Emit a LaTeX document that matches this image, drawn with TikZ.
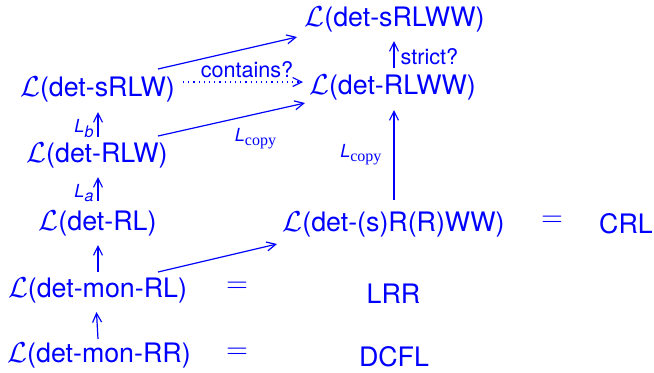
\documentclass[tikz,border=0pt]{standalone}
\usepackage{fontspec}
\setmainfont{TeX Gyre Heros}
\newfontfamily\tms{Liberation Serif}
\usetikzlibrary{arrows.meta}
\begin{document}
\begin{tikzpicture}[x=0.5pt,y=-0.5pt,
  lang/.style={text=blue,inner sep=0pt,font=\fontsize{13.4}{15}\selectfont},
  lbl/.style={text=blue,inner sep=0pt,font=\fontsize{10.8}{12}\selectfont},
  sml/.style={text=blue,inner sep=0pt,font=\fontsize{9}{10}\selectfont},
  arr/.style={draw=blue,line width=0.6pt,-{Straight Barb[length=4.5pt,width=4.5pt]}},
  dotarr/.style={arr,dotted}]
\useasboundingbox (0,0) rectangle (654,372);
\newcommand{\Lc}{$\mathcal{L}$}
\node[lang] (sRLWW) at (394.5,19) {\Lc(det-sRLWW)};
\node[lang] (RLWW) at (392.5,87) {\Lc(det-RLWW)};
\node[lang] (sRLW) at (97.5,89) {\Lc(det-sRLW)};
\node[lang] (RLW) at (97,155) {\Lc(det-RLW)};
\node[lang] (RL) at (97.5,223) {\Lc(det-RL)};
\node[lang] (sRRWW) at (393.5,224) {\Lc(det-(s)R(R)WW)};
\node[lang] (monRL) at (97.5,290) {\Lc(det-mon-RL)};
\node[lang] (monRR) at (99,355) {\Lc(det-mon-RR)};
\node[lang] (eq1) at (552,221) {$=$};
\node[lang] (CRL) at (626,224) {CRL};
\node[lang] (eq2) at (237,287) {$=$};
\node[lang] (LRR) at (393.5,294) {LRR};
\node[lang] (eq3) at (237,353) {$=$};
\node[lang] (DCFL) at (394,357) {DCFL};
% arrows
\draw[arr] ([shift={(60.5,-20)}]sRLW.center) -- ([shift={(-97.5,18)}]sRLWW.center);
\draw[dotarr] ([shift={(85.5,-7)}]sRLW.center) -- ([shift={(-89.5,-5)}]RLWW.center) node[lbl,midway,above=2pt,xshift=2pt] (contains) {contains?};
\draw[arr] ([shift={(61,-19)}]RLW.center) -- ([shift={(-87.5,16)}]RLWW.center) node[sml,midway,below=4pt,xshift=12pt] (lcopy1) {\textit{L}\raisebox{-0.4ex}{\tms\footnotesize copy}};
\draw[arr] ([shift={(1,-18)}]RLW.center) -- ([shift={(0.5,23)}]sRLW.center) node[sml,midway,left=2pt,yshift=-2pt] (lb) {\textit{L}\raisebox{-0.45ex}{\footnotesize\textit{b}}};
\draw[arr] ([shift={(0.5,-22)}]RL.center) -- ([shift={(1,22)}]RLW.center) node[sml,midway,left=2pt,yshift=-2pt] (la) {\textit{L}\raisebox{-0.45ex}{\footnotesize\textit{a}}};
\draw[arr] ([shift={(0.5,-18)}]monRL.center) -- ([shift={(0.5,22)}]RL.center);
\draw[arr] ([shift={(-1,-16)}]monRR.center) -- ([shift={(-1,22)}]monRL.center);
\draw[arr] ([shift={(60.5,-18)}]monRL.center) -- ([shift={(-116.5,20)}]sRRWW.center);
\draw[arr] ([shift={(0.5,-24)}]sRRWW.center) -- ([shift={(1.5,23)}]RLWW.center) node[sml,midway,left=6pt] (lcopy2) {\textit{L}\raisebox{-0.4ex}{\tms\footnotesize copy}};
\draw[arr] ([shift={(1.5,-19)}]RLWW.center) -- ([shift={(-0.5,22)}]sRLWW.center) node[lbl,midway,right=3pt,yshift=-1pt] (strict) {strict?};
\end{tikzpicture}
\end{document}
